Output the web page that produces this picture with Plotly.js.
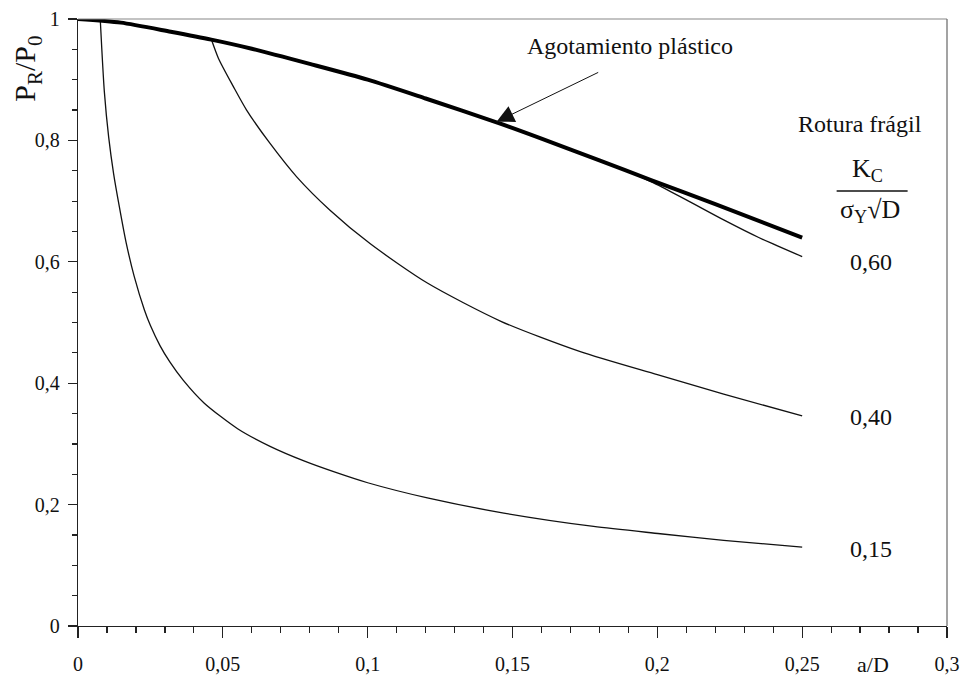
<!DOCTYPE html>
<html>
<head>
<meta charset="utf-8">
<script src="https://cdn.plot.ly/plotly-3.0.1.min.js"></script>
<style>html,body{margin:0;padding:0;background:#fff;}#chart{width:966px;height:678px;}</style>
</head>
<body>
<div id="chart"></div>
<script>
// Plastic collapse curve (Agotamiento plástico)
const plasticX = [0, 0.0148, 0.032, 0.046, 0.06, 0.08, 0.10, 0.12, 0.145, 0.16, 0.18, 0.1976, 0.22, 0.25];
const plasticY = [1, 0.994, 0.979, 0.966, 0.951, 0.926, 0.900, 0.869, 0.829, 0.803, 0.767, 0.735, 0.695, 0.640];

// Brittle fracture curves (Rotura frágil), Kc/(sigmaY sqrt(D))
const k015X = [0.0077, 0.0091, 0.0106, 0.0123, 0.0143, 0.0166, 0.0194, 0.0229, 0.0250, 0.0283, 0.0317, 0.0363, 0.0436, 0.0551, 0.0663, 0.078, 0.089, 0.100, 0.1206, 0.147, 0.178, 0.201, 0.2229, 0.25];
const k015Y = [0.998, 0.880, 0.805, 0.745, 0.690, 0.632, 0.576, 0.521, 0.495, 0.462, 0.435, 0.405, 0.367, 0.325, 0.296, 0.272, 0.253, 0.236, 0.211, 0.186, 0.164, 0.152, 0.141, 0.130];

const k040X = [0.046, 0.0485, 0.0536, 0.0582, 0.0663, 0.0755, 0.087, 0.1008, 0.1206, 0.146, 0.1734, 0.200, 0.2229, 0.25];
const k040Y = [0.967, 0.935, 0.889, 0.850, 0.795, 0.740, 0.685, 0.630, 0.565, 0.502, 0.452, 0.414, 0.382, 0.346];

const k060X = [0.192, 0.1987, 0.21, 0.2229, 0.235, 0.25];
const k060Y = [0.745, 0.730, 0.702, 0.669, 0.640, 0.6085];

const xTickVals = [0, 0.05, 0.1, 0.15, 0.2, 0.25, 0.3];
const xTickText = ['0', '0,05', '0,1', '0,15', '0,2', '0,25', '0,3'];
const yTickVals = [0, 0.2, 0.4, 0.6, 0.8, 1];
const yTickText = ['0', '0,2', '0,4', '0,6', '0,8', '1'];

const curveLabels = ['0,60', '0,40', '0,15'];
const curveLabelY = [0.599, 0.345, 0.127];

const FONT = 'Liberation Serif, Times New Roman, serif';
const thin = {color: '#111', width: 1.3, shape: 'spline', smoothing: 0.7};

const traces = [
  {x: k015X, y: k015Y, mode: 'lines', line: thin, hoverinfo: 'skip'},
  {x: k040X, y: k040Y, mode: 'lines', line: thin, hoverinfo: 'skip'},
  {x: k060X, y: k060Y, mode: 'lines', line: thin, hoverinfo: 'skip'},
  {x: plasticX, y: plasticY, mode: 'lines', line: {color: '#000', width: 4, shape: 'spline', smoothing: 0.7}, hoverinfo: 'skip'}
];

const annotations = [
  {x: 0.1542, y: 0.9555, xref: 'x', yref: 'y', text: 'Agotamiento plástico', showarrow: false,
   xanchor: 'left', yanchor: 'middle', font: {family: FONT, size: 24, color: '#111'}},
  {x: 0.1445, y: 0.8308, xref: 'x', yref: 'y', ax: 0.1801, ay: 0.9132, axref: 'x', ayref: 'y',
   text: '', showarrow: true, arrowhead: 2, arrowsize: 3.5, arrowwidth: 1, arrowcolor: '#111', standoff: 0},
  {x: 0.2698, y: 0.827, xref: 'x', yref: 'y', text: 'Rotura frágil', showarrow: false,
   xanchor: 'center', yanchor: 'middle', font: {family: FONT, size: 24, color: '#111'}},
  {x: 0.2726, y: 0.752, xref: 'x', yref: 'y', text: 'K<sub>C</sub>', showarrow: false,
   xanchor: 'center', yanchor: 'middle', font: {family: FONT, size: 26, color: '#111'}},
  {x: 0.2733, y: 0.684, xref: 'x', yref: 'y', text: 'σ<sub>Y</sub>√D', showarrow: false,
   xanchor: 'center', yanchor: 'middle', font: {family: FONT, size: 26, color: '#111'}},
  {x: -0.0587, y: 0.918, xref: 'paper', yref: 'paper', text: 'P<sub>R</sub>/P<sub>0</sub>', showarrow: false,
   textangle: -90, xanchor: 'center', yanchor: 'middle', font: {family: FONT, size: 30, color: '#111'}},
  {x: (873 - 78) / 869, y: -0.0635, xref: 'paper', yref: 'paper', text: 'a/D', showarrow: false,
   xanchor: 'center', yanchor: 'middle', font: {family: FONT, size: 22, color: '#111'}}
];
curveLabels.forEach((t, i) => {
  annotations.push({x: 0.2736, y: curveLabelY[i], xref: 'x', yref: 'y', text: t, showarrow: false,
    xanchor: 'center', yanchor: 'middle', font: {family: FONT, size: 24, color: '#111'}});
});

const layout = {
  width: 966, height: 678,
  margin: {l: 78, r: 19, t: 19, b: 52},
  paper_bgcolor: '#fff', plot_bgcolor: '#fff',
  showlegend: false,
  font: {family: FONT, color: '#111'},
  xaxis: {
    range: [0, 0.3], tickvals: xTickVals, ticktext: xTickText,
    showgrid: false, zeroline: false, showline: true, linecolor: '#222', linewidth: 1.3,
    ticks: 'outside', ticklen: 11, tickwidth: 1.2, tickcolor: '#222',
    ticklabelstandoff: 9,
    tickfont: {family: FONT, size: 20, color: '#111'},
    minor: {dtick: 0.01, tick0: 0, ticks: 'outside', ticklen: 6, tickwidth: 1.2, tickcolor: '#222', showgrid: false}
  },
  yaxis: {
    range: [0, 1], tickvals: yTickVals, ticktext: yTickText,
    showgrid: false, zeroline: false, showline: true, linecolor: '#222', linewidth: 1.3,
    ticks: 'outside', ticklen: 9, tickwidth: 1.2, tickcolor: '#222',
    ticklabelstandoff: 4,
    tickfont: {family: FONT, size: 20, color: '#111'},
    minor: {dtick: 0.05, tick0: 0, ticks: 'outside', ticklen: 5, tickwidth: 1.2, tickcolor: '#222', showgrid: false}
  },
  shapes: [
    {type: 'line', xref: 'paper', yref: 'paper', x0: 0, x1: 1, y0: 1, y1: 1, line: {color: '#888', width: 1.2}},
    {type: 'line', xref: 'paper', yref: 'paper', x0: 1, x1: 1, y0: 0, y1: 1, line: {color: '#666', width: 1.2}},
    {type: 'line', xref: 'x', yref: 'y', x0: 0.2619, x1: 0.2864, y0: 0.7166, y1: 0.7166, line: {color: '#111', width: 1.3}}
  ],
  annotations: annotations
};

Plotly.newPlot('chart', traces, layout, {displayModeBar: false, staticPlot: true});
</script>
</body>
</html>
